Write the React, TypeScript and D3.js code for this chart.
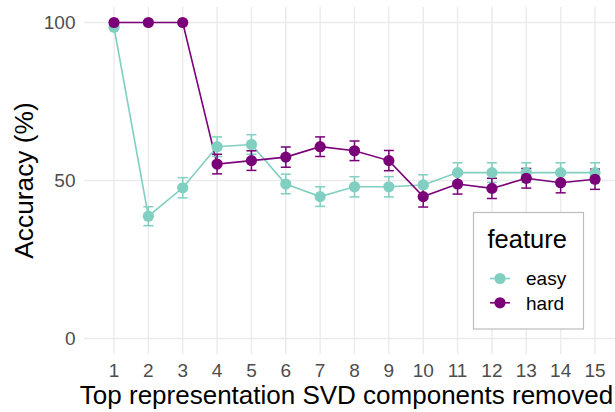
import React from "react";
import * as d3 from "d3";

const components = [1, 2, 3, 4, 5, 6, 7, 8, 9, 10, 11, 12, 13, 14, 15];
const easyAcc = [98.5, 38.7, 47.7, 60.7, 61.4, 48.9, 44.9, 48.0, 48.0, 48.6, 52.5, 52.5, 52.5, 52.5, 52.5];
const easySe = [0, 3.0, 3.2, 3.1, 3.1, 3.1, 3.1, 3.2, 3.2, 3.2, 3.1, 3.1, 3.1, 3.1, 3.1];
const hardAcc = [100, 100, 100, 55.2, 56.3, 57.4, 60.7, 59.4, 56.3, 44.9, 48.9, 47.5, 50.7, 49.3, 50.4];
const hardSe = [0, 0, 0, 3.1, 3.1, 3.2, 3.1, 3.1, 3.2, 3.3, 3.2, 3.2, 3.1, 3.2, 3.2];
const yTicks = [0, 50, 100];
const seriesNames = ["easy", "hard"];
const seriesColors = ["#80CFC0", "#7A0177"];

const W = 615;
const H = 412;
const FONT = "'Liberation Sans', Arial, sans-serif";

export default function App() {
  const x = d3.scaleLinear().domain([1, 15]).range([114, 595]);
  const y = d3.scaleLinear().domain([0, 100]).range([338.5, 22.5]);
  const panel = { left: 84, right: 615, top: y(105), bottom: y(-5) };

  const series = [
    { name: seriesNames[0], color: seriesColors[0], acc: easyAcc, se: easySe },
    { name: seriesNames[1], color: seriesColors[1], acc: hardAcc, se: hardSe },
  ];
  const line = d3
    .line<number>()
    .x((_, i) => x(components[i]))
    .y((d) => y(d));

  return (
    <svg
      width={W}
      height={H}
      style={{ position: "absolute", left: 0, top: 0, background: "#fff" }}
      fontFamily={FONT}
    >
      {/* grid */}
      {yTicks.map((t) => (
        <line key={"gy" + t} x1={panel.left} x2={panel.right} y1={y(t)} y2={y(t)} stroke="#EBEBEB" strokeWidth={1.4} />
      ))}
      {components.map((c) => (
        <line key={"gx" + c} x1={x(c)} x2={x(c)} y1={panel.top} y2={panel.bottom} stroke="#EBEBEB" strokeWidth={1.4} />
      ))}
      {/* y tick labels */}
      {yTicks.map((t) => (
        <text key={"ty" + t} x={75.5} y={y(t)} dy="0.36em" textAnchor="end" fontSize={19} fill="#4D4D4D">
          {t}
        </text>
      ))}
      {/* x tick labels */}
      {components.map((c) => (
        <text key={"tx" + c} x={x(c)} y={377} textAnchor="middle" fontSize={19} fill="#4D4D4D">
          {c}
        </text>
      ))}
      {/* axis titles */}
      <text x={346.5} y={404} textAnchor="middle" fontSize={26} fill="#000">
        Top representation SVD components removed
      </text>
      <text transform={`translate(32.5,180.5) rotate(-90)`} textAnchor="middle" fontSize={26.3} fill="#000">
        Accuracy (%)
      </text>
      {/* lines */}
      {series.map((s) => (
        <path key={"l" + s.name} d={line(s.acc) || ""} fill="none" stroke={s.color} strokeWidth={1.6} />
      ))}
      {/* error bars */}
      {series.map((s) =>
        s.acc.map((v, i) =>
          s.se[i] > 0 ? (
            <g key={"e" + s.name + i} stroke={s.color} strokeWidth={1.5}>
              <line x1={x(components[i])} x2={x(components[i])} y1={y(v - s.se[i])} y2={y(v + s.se[i])} />
              <line x1={x(components[i]) - 5} x2={x(components[i]) + 5} y1={y(v - s.se[i])} y2={y(v - s.se[i])} />
              <line x1={x(components[i]) - 5} x2={x(components[i]) + 5} y1={y(v + s.se[i])} y2={y(v + s.se[i])} />
            </g>
          ) : null
        )
      )}
      {/* points */}
      {series.map((s) =>
        s.acc.map((v, i) => (
          <circle key={"p" + s.name + i} cx={x(components[i])} cy={y(v)} r={5.6} fill={s.color} />
        ))
      )}
      {/* legend */}
      <rect x={473.5} y={212.5} width={110} height={116.5} fill="#fff" stroke="#BDBDBD" strokeWidth={1.2} />
      <text x={487.5} y={248} fontSize={25.5} fill="#000">
        feature
      </text>
      {series.map((s, i) => {
        const ly = 278.5 + i * 24.3;
        return (
          <g key={"lg" + s.name}>
            <line x1={490} x2={510} y1={ly} y2={ly} stroke={s.color} strokeWidth={1.6} />
            <circle cx={500} cy={ly} r={5.6} fill={s.color} />
            <text x={526} y={ly} dy="0.36em" fontSize={19} fill="#000">
              {s.name}
            </text>
          </g>
        );
      })}
    </svg>
  );
}
